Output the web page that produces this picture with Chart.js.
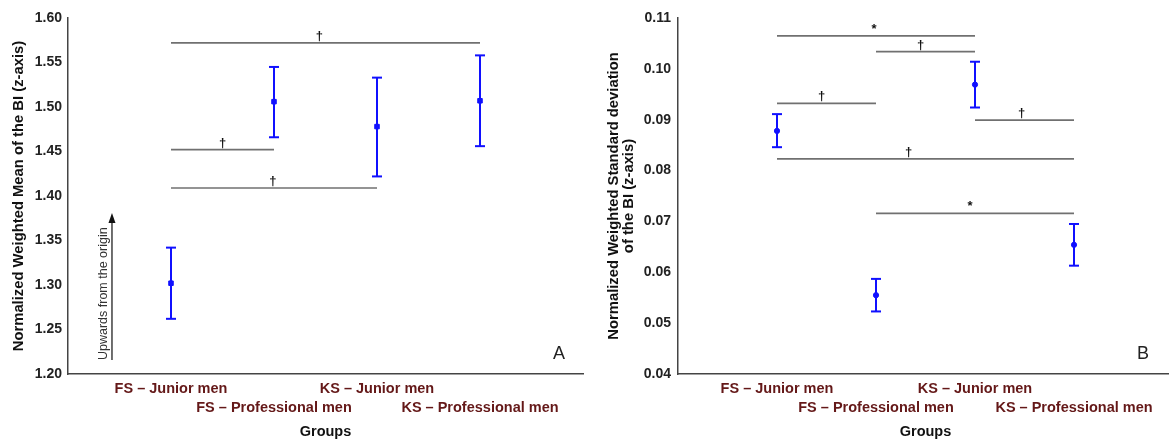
<!DOCTYPE html>
<html>
<head>
<meta charset="utf-8">
<script src="https://cdn.jsdelivr.net/npm/chart.js@4.4.1/dist/chart.umd.min.js"></script>
<style>
  html, body { margin: 0; padding: 0; background: #fff; overflow: hidden; width: 1169px; height: 439px; }
  #wrapA { position: absolute; left: 0; top: 0; width: 590px; height: 439px; }
  #wrapB { position: absolute; left: 590px; top: 0; width: 590px; height: 439px; }
  canvas { display: block; }
</style>
</head>
<body>
<div id="wrapA"><canvas id="chartA" width="590" height="439" style="width:590px;height:439px"></canvas></div>
<div id="wrapB"><canvas id="chartB" width="590" height="439" style="width:590px;height:439px"></canvas></div>
<script>
// groups on the x axis (positions 1..4)
const groups = ["FS – Junior men", "FS – Professional men", "KS – Junior men", "KS – Professional men"];
const groupPos = [1, 2, 3, 4];

// panel A: weighted mean
const meanA = [1.302, 1.506, 1.478, 1.507];
const lowA = [1.262, 1.466, 1.422, 1.456];
const highA = [1.342, 1.545, 1.533, 1.558];
const yTicksA = [1.20, 1.25, 1.30, 1.35, 1.40, 1.45, 1.50, 1.55, 1.60];

// panel A: significance bars
const sigFromA = [1, 1, 1];
const sigToA = [4, 2, 3];
const sigLevelA = [1.572, 1.452, 1.409];
const sigMarkA = ["†", "†", "†"];
const sigMarkXA = [2.44, 1.5, 1.99];

// panel B: weighted standard deviation
const meanB = [0.0878, 0.0555, 0.0969, 0.0654];
const lowB = [0.0846, 0.0523, 0.0924, 0.0613];
const highB = [0.0911, 0.0587, 0.1014, 0.0695];
const yTicksB = [0.04, 0.05, 0.06, 0.07, 0.08, 0.09, 0.10, 0.11];

// panel B: significance bars
const sigFromB = [1, 2, 1, 3, 1, 2];
const sigToB = [3, 3, 2, 4, 4, 4];
const sigLevelB = [0.1065, 0.1034, 0.0932, 0.0899, 0.0823, 0.0716];
const sigMarkB = ["*", "†", "†", "†", "†", "*"];
const sigMarkXB = [1.98, 2.45, 1.45, 3.47, 2.33, 2.95];

const BLUE = "#1010ff";
const FONT = '"Liberation Sans", Arial, sans-serif';

function buildDatasets(means, lows, highs, from, to, levels, meanStyle, meanRadius) {
  const ds = [];
  // bars between groups
  levels.forEach((lv, i) => {
    ds.push({
      type: "line",
      data: [{ x: from[i], y: lv }, { x: to[i], y: lv }],
      borderColor: "#707070",
      borderWidth: 1.7,
      pointRadius: 0,
    });
  });
  // whiskers
  groupPos.forEach((g, i) => {
    ds.push({
      type: "line",
      data: [{ x: g, y: lows[i] }, { x: g, y: highs[i] }],
      borderColor: BLUE,
      borderWidth: 2,
      pointRadius: 0,
    });
  });
  // caps
  ds.push({
    type: "scatter",
    data: groupPos.flatMap((g, i) => [{ x: g, y: lows[i] }, { x: g, y: highs[i] }]),
    pointStyle: "line",
    pointRadius: 5,
    pointBorderColor: BLUE,
    pointBorderWidth: 2,
  });
  // means
  ds.push({
    type: "scatter",
    data: groupPos.map((g, i) => ({ x: g, y: means[i] })),
    pointStyle: meanStyle,
    pointRadius: meanRadius,
    pointBackgroundColor: BLUE,
    pointBorderColor: BLUE,
    pointBorderWidth: 1,
  });
  return ds;
}

// text marks, panel letter and the arrow note
const notesPlugin = {
  id: "notes",
  afterDatasetsDraw(chart, args, o) {
    const { ctx, chartArea, scales: { x, y } } = chart;
    ctx.save();
    ctx.fillStyle = "#111";
    ctx.textAlign = "center";
    ctx.textBaseline = "alphabetic";
    ctx.font = "bold 13px " + FONT;
    o.marks.forEach((m, i) => {
      ctx.fillText(m, x.getPixelForValue(o.markX[i]), y.getPixelForValue(o.levels[i]) - 3);
    });

    ctx.font = "18px " + FONT;
    ctx.fillStyle = "#222";
    ctx.fillText(o.letter, chartArea.right - o.letterDx, chartArea.bottom - 15);

    if (o.arrow) {
      const ax = x.getPixelForValue(o.arrow.x);
      const y0 = y.getPixelForValue(o.arrow.y0);
      const y1 = y.getPixelForValue(o.arrow.y1);
      ctx.strokeStyle = "#222";
      ctx.lineWidth = 1.3;
      ctx.beginPath();
      ctx.moveTo(ax, y0);
      ctx.lineTo(ax, y1 + 8);
      ctx.stroke();
      ctx.fillStyle = "#111";
      ctx.beginPath();
      ctx.moveTo(ax, y1);
      ctx.lineTo(ax - 3.5, y1 + 10);
      ctx.lineTo(ax + 3.5, y1 + 10);
      ctx.closePath();
      ctx.fill();

      ctx.translate(x.getPixelForValue(o.arrow.textX), y0);
      ctx.rotate(-Math.PI / 2);
      ctx.font = "12.5px " + FONT;
      ctx.fillStyle = "#333";
      ctx.textAlign = "left";
      ctx.textBaseline = "middle";
      ctx.fillText(o.arrow.text, 0, 0);
    }
    ctx.restore();
  },
};

function makePanel(id, p) {
  return new Chart(document.getElementById(id), {
    type: "scatter",
    data: { datasets: buildDatasets(p.means, p.lows, p.highs, p.from, p.to, p.levels, p.meanStyle, p.meanRadius) },
    plugins: [notesPlugin],
    options: {
      responsive: false,
      animation: false,
      events: [],
      layout: { padding: { top: 18, right: 7, left: 0, bottom: 0 } },
      plugins: {
        legend: { display: false },
        tooltip: { enabled: false },
        notes: { marks: p.marks, markX: p.markX, levels: p.levels, letter: p.letter, letterDx: p.letterDx, arrow: p.arrow },
      },
      scales: {
        x: {
          type: "linear",
          min: 0,
          max: 5,
          grid: { display: false, drawTicks: false },
          border: { display: true, color: "#444", width: 1.5 },
          afterBuildTicks: (scale) => {
            scale.ticks = [0, 1, 2, 3, 4, 5].map((v) => ({ value: v }));
          },
          afterFit: (scale) => {
            scale.height = 65;
          },
          ticks: {
            autoSkip: false,
            maxRotation: 0,
            padding: 5.5,
            color: "#641818",
            font: { family: FONT, size: 14.5, weight: "bold", lineHeight: 1.3 },
            callback: (v) => {
              const label = groups[v - 1];
              if (!label) return "";
              return v % 2 === 0 ? ["", label] : label;
            },
          },
          title: {
            display: true,
            text: "Groups",
            color: "#111",
            padding: { top: 0, bottom: -2 },
            font: { family: FONT, size: 14.5, weight: "bold" },
          },
        },
        y: {
          min: p.yTicks[0],
          max: p.yTicks[p.yTicks.length - 1],
          grid: { display: false, drawTicks: false },
          border: { display: true, color: "#444", width: 1.5 },
          afterBuildTicks: (scale) => {
            scale.ticks = p.yTicks.map((v) => ({ value: v }));
          },
          afterFit: (scale) => {
            scale.width = p.yWidth;
          },
          ticks: {
            padding: p.tickPad,
            color: "#222",
            font: { family: FONT, size: 14, weight: "bold" },
            callback: (v) => v.toFixed(2),
          },
          title: {
            display: true,
            text: p.yTitle,
            color: "#111",
            padding: { top: p.titlePad, bottom: 0 },
            font: { family: FONT, size: 14.8, weight: "bold", lineHeight: 1.05 },
          },
        },
      },
    },
  });
}

makePanel("chartA", {
  means: meanA, lows: lowA, highs: highA,
  from: sigFromA, to: sigToA, levels: sigLevelA, marks: sigMarkA, markX: sigMarkXA,
  meanStyle: "rect", meanRadius: 3.2,
  yTicks: yTicksA, yWidth: 68, tickPad: 6, titlePad: 11,
  yTitle: "Normalized Weighted Mean of the BI (z-axis)",
  letter: "A", letterDx: 24,
  arrow: { x: 0.427, y0: 1.2157, y1: 1.381, textX: 0.345, text: "Upwards from the origin" },
});

makePanel("chartB", {
  means: meanB, lows: lowB, highs: highB,
  from: sigFromB, to: sigToB, levels: sigLevelB, marks: sigMarkB, markX: sigMarkXB,
  meanStyle: "circle", meanRadius: 2.6,
  yTicks: yTicksB, yWidth: 88, tickPad: 7, titlePad: 16,
  yTitle: ["Normalized Weighted Standard deviation", "of the BI (z-axis)"],
  letter: "B", letterDx: 30,
  arrow: null,
});
</script>
</body>
</html>
